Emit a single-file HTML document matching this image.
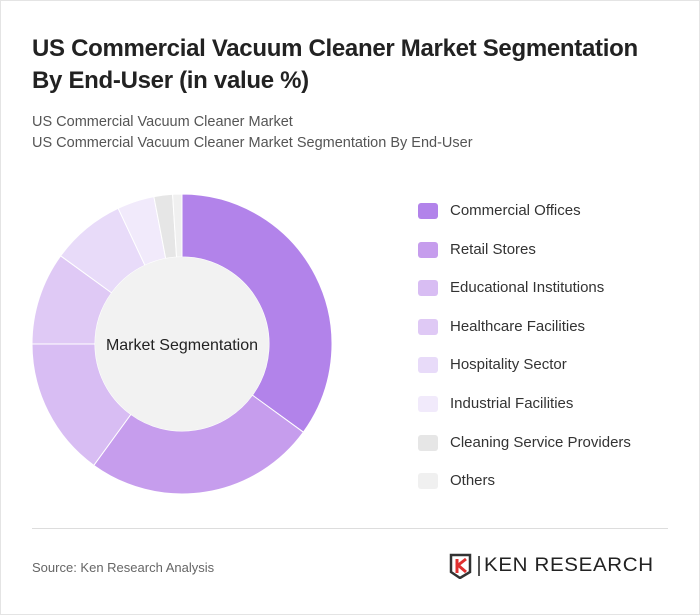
<!DOCTYPE html>
<html><head><meta charset="utf-8"><style>
body{margin:0;width:700px;height:615px;background:#fff;font-family:"Liberation Sans",sans-serif;overflow:hidden}
.frame{position:absolute;left:0;top:0;width:698px;height:613px;border:1px solid #e4e4e4}
h1{position:absolute;left:32px;top:33px;margin:0;font-size:24px;line-height:32px;font-weight:bold;color:#222;width:640px;letter-spacing:-0.3px}
.sub{position:absolute;left:32px;font-size:14.5px;color:#555}
.leg{position:absolute;left:418px;font-size:15px;color:#333}
.sw{position:absolute;left:0;top:2px;width:20px;height:16px;border-radius:3px}
.lt{position:absolute;left:32px;top:1px;white-space:nowrap}
</style></head><body>
<div class="frame"></div>
<h1>US Commercial Vacuum Cleaner Market Segmentation By End-User (in value %)</h1>
<div class="sub" style="top:114px">US Commercial Vacuum Cleaner Market</div>
<div class="sub" style="top:135px">US Commercial Vacuum Cleaner Market Segmentation By End-User</div>
<svg id="pie" width="700" height="615" style="position:absolute;left:0;top:0"></svg>
<div id="legend"></div>
<div style="position:absolute;left:32px;top:528px;width:636px;height:1px;background:#ddd"></div>
<div style="position:absolute;left:32px;top:560px;font-size:13px;color:#666">Source: Ken Research Analysis</div>
<div style="position:absolute;left:448px;top:553px;height:26px">
<svg width="26" height="26" style="position:absolute;left:0;top:0"><path d="M3 2H22V19L12 25L3 19Z" fill="none" stroke="#333" stroke-width="2.5"/><path d="M9 6V20M9 13L18 6M11 13L18 19" stroke="#e03030" stroke-width="3" fill="none"/></svg>
<div style="position:absolute;left:30px;top:3px;width:2px;height:20px;background:#555"></div>
<div style="position:absolute;left:36px;top:2px;font-size:19px;color:#222;white-space:nowrap;letter-spacing:0.6px;transform:scaleX(1.08);transform-origin:left">KEN RESEARCH</div>
</div>
<script>
const categories=["Commercial Offices","Retail Stores","Educational Institutions","Healthcare Facilities","Hospitality Sector","Industrial Facilities","Cleaning Service Providers","Others"];
const values=[35,25,15,10,8,4,2,1];
const colors=["#b283ea","#c69ded","#d8bdf3","#dfc9f5","#e8dbf9","#f1eafb","#e6e6e6","#f0f0f0"];
const svg=document.getElementById('pie');const NS="http://www.w3.org/2000/svg";
const cx=182,cy=344,R=150,r=87;
const total=values.reduce((a,b)=>a+b,0);
function pt(a,rad){return [cx+rad*Math.sin(a),cy-rad*Math.cos(a)];}
let acc=0;
values.forEach((v,i)=>{
 const a0=acc/total*2*Math.PI;acc+=v;const a1=acc/total*2*Math.PI;
 const l=(a1-a0)>Math.PI?1:0;
 const p0=pt(a0,R),p1=pt(a1,R),q1=pt(a1,r),q0=pt(a0,r);
 const p=document.createElementNS(NS,'path');
 p.setAttribute('d',`M${p0}A${R},${R} 0 ${l} 1 ${p1}L${q1}A${r},${r} 0 ${l} 0 ${q0}Z`);
 p.setAttribute('fill',colors[i]);p.setAttribute('stroke','#fff');p.setAttribute('stroke-width','1');
 
 
 svg.appendChild(p);
});
const c=document.createElementNS(NS,'circle');c.setAttribute('cx',cx);c.setAttribute('cy',cy);c.setAttribute('r',r);c.setAttribute('fill','#f2f2f2');


svg.appendChild(c);
const t=document.createElementNS(NS,'text');t.setAttribute('x',cx);t.setAttribute('y',cy+6);t.setAttribute('text-anchor','middle');t.setAttribute('font-size','16');t.setAttribute('fill','#222');t.setAttribute('font-family','Liberation Sans, sans-serif');t.textContent='Market Segmentation';


svg.appendChild(t);
const lg=document.getElementById('legend');
categories.forEach((n,i)=>{
 const d=document.createElement('div');d.className='leg';d.style.top=(201+i*38.6)+'px';
 d.innerHTML=`<div class="sw" style="background:${colors[i]}"></div><span class="lt">${n}</span>`;
 
 
 lg.appendChild(d);
});
</script>
</body></html>
